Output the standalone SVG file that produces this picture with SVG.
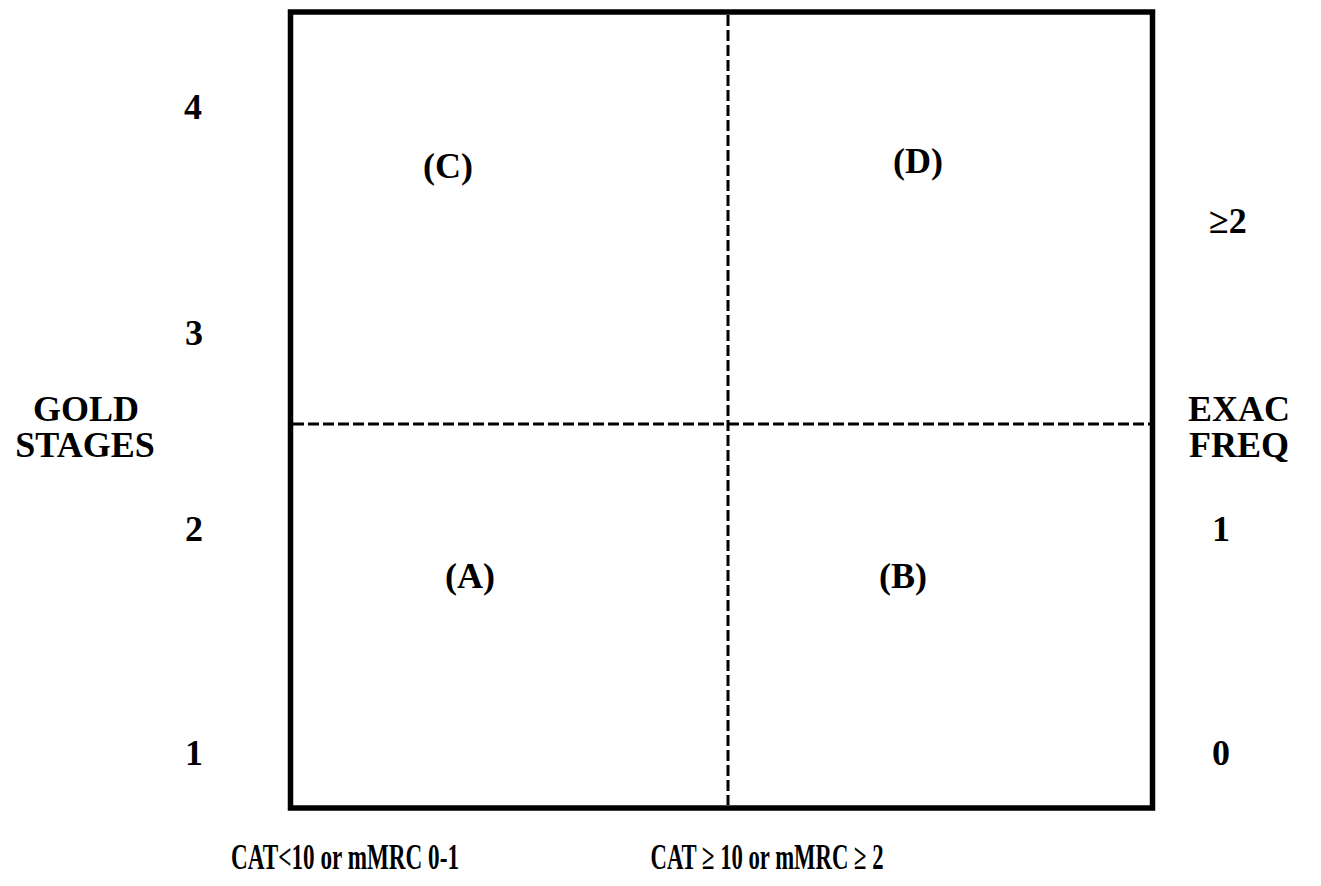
<svg xmlns="http://www.w3.org/2000/svg" width="1321" height="886" viewBox="0 0 1321 886">
<style>
.t{font-family:"Liberation Serif","Times New Roman",serif;font-weight:bold;font-size:36px;fill:#000;text-anchor:middle}
.d{stroke:#000;stroke-width:3;stroke-dasharray:11 4;fill:none}
</style>
<rect width="1321" height="886" fill="#fff"/>
<g id="grid">
<rect id="frame" x="290.5" y="12" width="862" height="796" fill="none" stroke="#000" stroke-width="5.5"/>
</g>
<g id="connectors">
<line class="d" x1="293" y1="424" x2="1150" y2="424"/>
<line class="d" x1="728" y1="15" x2="728" y2="805"/>
</g>
<g id="quadA"><text class="t" x="470" y="588">(A)</text></g>
<g id="quadB"><text class="t" x="903" y="588">(B)</text></g>
<g id="quadC"><text class="t" x="448" y="178">(C)</text></g>
<g id="quadD"><text class="t" x="918" y="173">(D)</text></g>
<g id="leftAxis">
<text class="t" x="193" y="119">4</text>
<text class="t" x="194" y="345">3</text>
<text class="t" x="194" y="541">2</text>
<text class="t" x="194" y="765">1</text>
<text class="t"><tspan x="86" y="421">GOLD</tspan><tspan x="85" y="457">STAGES</tspan></text>
</g>
<g id="rightAxis">
<text class="t" x="1228" y="233">≥2</text>
<text class="t"><tspan x="1239" y="421">EXAC</tspan><tspan x="1239" y="457">FREQ</tspan></text>
<text class="t" x="1221" y="541">1</text>
<text class="t" x="1221" y="765">0</text>
</g>
<g id="bottomAxis">
<text class="t" x="345" y="869" font-size="37" textLength="228" lengthAdjust="spacingAndGlyphs">CAT&lt;10 or mMRC 0-1</text>
<text class="t" x="767" y="869" font-size="37" textLength="233" lengthAdjust="spacingAndGlyphs">CAT ≥ 10 or mMRC ≥ 2</text>
</g>
</svg>
